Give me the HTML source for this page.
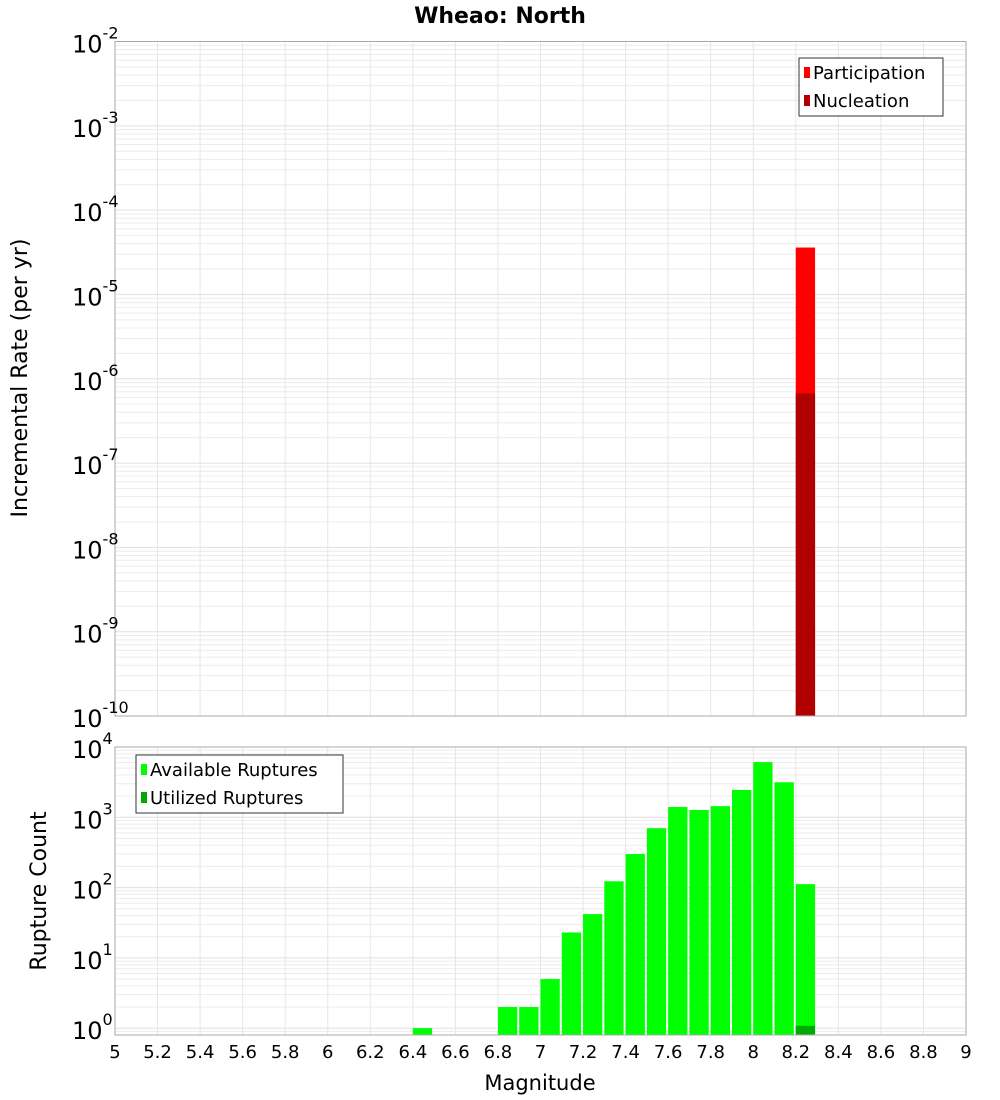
<!DOCTYPE html>
<html><head><meta charset="utf-8"><style>
body{margin:0;background:#fff}
svg{display:block;font-family:"DejaVu Sans","Liberation Sans",sans-serif}
</style></head><body>
<svg id="c" width="1000" height="1100" xmlns="http://www.w3.org/2000/svg">
<text x="500" y="23" text-anchor="middle" font-size="22" font-weight="bold">Wheao: North</text>
<text transform="translate(27,378) rotate(-90)" text-anchor="middle" font-size="22">Incremental Rate (per yr)</text>
<text transform="translate(46,891) rotate(-90)" text-anchor="middle" font-size="22">Rupture Count</text>
<text x="540" y="1090" text-anchor="middle" font-size="21">Magnitude</text>
<g id="g"></g>
</svg>
<script>
const mags=[6.4,6.8,6.9,7.0,7.1,7.2,7.3,7.4,7.5,7.6,7.7,7.8,7.9,8.0,8.1,8.2];
const available=[1,2,2,5,23,42,123,300,700,1400,1270,1440,2450,6100,3150,112];
const utilMags=[8.2];
const utilized=[1.08];
const rateMags=[8.2];
const participation=[3.6e-5];
const nucleation=[6.7e-7];
const xTicks=[5,5.2,5.4,5.6,5.8,6,6.2,6.4,6.6,6.8,7,7.2,7.4,7.6,7.8,8,8.2,8.4,8.6,8.8,9];
const topExps=[-2,-3,-4,-5,-6,-7,-8,-9,-10];
const botExps=[4,3,2,1,0];

const NS="http://www.w3.org/2000/svg",g=document.getElementById('g');
function el(t,a,txt){const e=document.createElementNS(NS,t);for(const k in a)e.setAttribute(k,a[k]);if(txt!==undefined)e.textContent=txt;g.appendChild(e);return e;}
const L=115,R=966;
const X=m=>L+(m-5)*(R-L)/4;
const T0=41.5,T1=716,B0=747,B1=1035;
const yTop=v=>T1-(Math.log10(v)+10)*(T1-T0)/8;
const bMin=Math.log10(0.8),bMax=4;
const yBot=v=>B1-(Math.log10(v)-bMin)*(B1-B0)/(bMax-bMin);

function grid(y0,y1,yf,lo,hi){
  for(let e=lo;e<=hi;e++)for(let k=1;k<10;k++){const v=k*Math.pow(10,e),y=yf(v);if(y<y0-0.5||y>y1+0.5)continue;
    const l=el('line',{x1:L,x2:R,y1:y,y2:y,stroke:k==1?'#e0e0e0':'#ececec','stroke-width':1});
    }
  for(const m of xTicks){const l=el('line',{x1:X(m),x2:X(m),y1:y0,y2:y1,stroke:'#e6e6e6'});
    }
}
grid(T0,T1,yTop,-10,-3);
grid(B0,B1,yBot,-1,4);

// top bars
rateMags.forEach((m,i)=>{
  const w=X(m+0.1)-X(m)-2;
  const p=el('rect',{x:X(m),y:yTop(participation[i]),width:w,height:T1-yTop(participation[i]),fill:'#ff0000'});
  
  const n=el('rect',{x:X(m),y:yTop(nucleation[i]),width:w,height:T1-yTop(nucleation[i]),fill:'#b00000'});
  
});
// bottom bars
mags.forEach((m,i)=>{
  const w=X(m+0.1)-X(m)-2;
  const b=el('rect',{x:X(m),y:yBot(available[i]),width:w,height:B1-yBot(available[i]),fill:'#00ff00'});
  
});
utilMags.forEach((m,i)=>{
  const w=X(m+0.1)-X(m)-2;
  const b=el('rect',{x:X(m),y:yBot(utilized[i]),width:w,height:B1-yBot(utilized[i]),fill:'#00aa00'});
  
});
// frames
[[T0,T1],[B0,B1]].forEach(([a,b])=>{const r=el('rect',{x:L,y:a,width:R-L,height:b-a,fill:'none',stroke:'#aaa'});
  });
// y labels
function ylab(y,e,nm){const t=el('text',{x:104,y:y+11,'text-anchor':'end','font-size':24});
  
  t.textContent='10';const s=document.createElementNS(NS,'tspan');s.setAttribute('font-size','16');s.setAttribute('dy','-14');s.textContent=String(e);t.appendChild(s);}
topExps.forEach(e=>ylab(yTop(Math.pow(10,e)),e,'top-y-tick-label'));
botExps.forEach(e=>ylab(yBot(Math.pow(10,e)),e,'bottom-y-tick-label'));
// fix anchor: labels positioned so "10" ends near axis
document.querySelectorAll('text[text-anchor=end]').forEach(t=>{t.setAttribute('text-anchor','start');t.setAttribute('x',72);});
xTicks.forEach(m=>{const t=el('text',{x:X(m),y:1058,'text-anchor':'middle','font-size':18},String(m));
  });
// legends
function legend(x,y,w,items,nm){const r=el('rect',{x:x,y:y,width:w,height:58,fill:'#fff',stroke:'#333'});
  
  items.forEach(([c,lab],i)=>{const s=el('rect',{x:x+5,y:y+9+i*28,width:6,height:11,fill:c});
    
    const t=el('text',{x:x+14,y:y+21+i*28,'font-size':18},lab);
    });}
legend(799,58,144,[['#ff0000','Participation'],['#b00000','Nucleation']],'top-legend');
legend(136,755,207,[['#00ff00','Available Ruptures'],['#00aa00','Utilized Ruptures']],'bottom-legend');
</script>
</body></html>
